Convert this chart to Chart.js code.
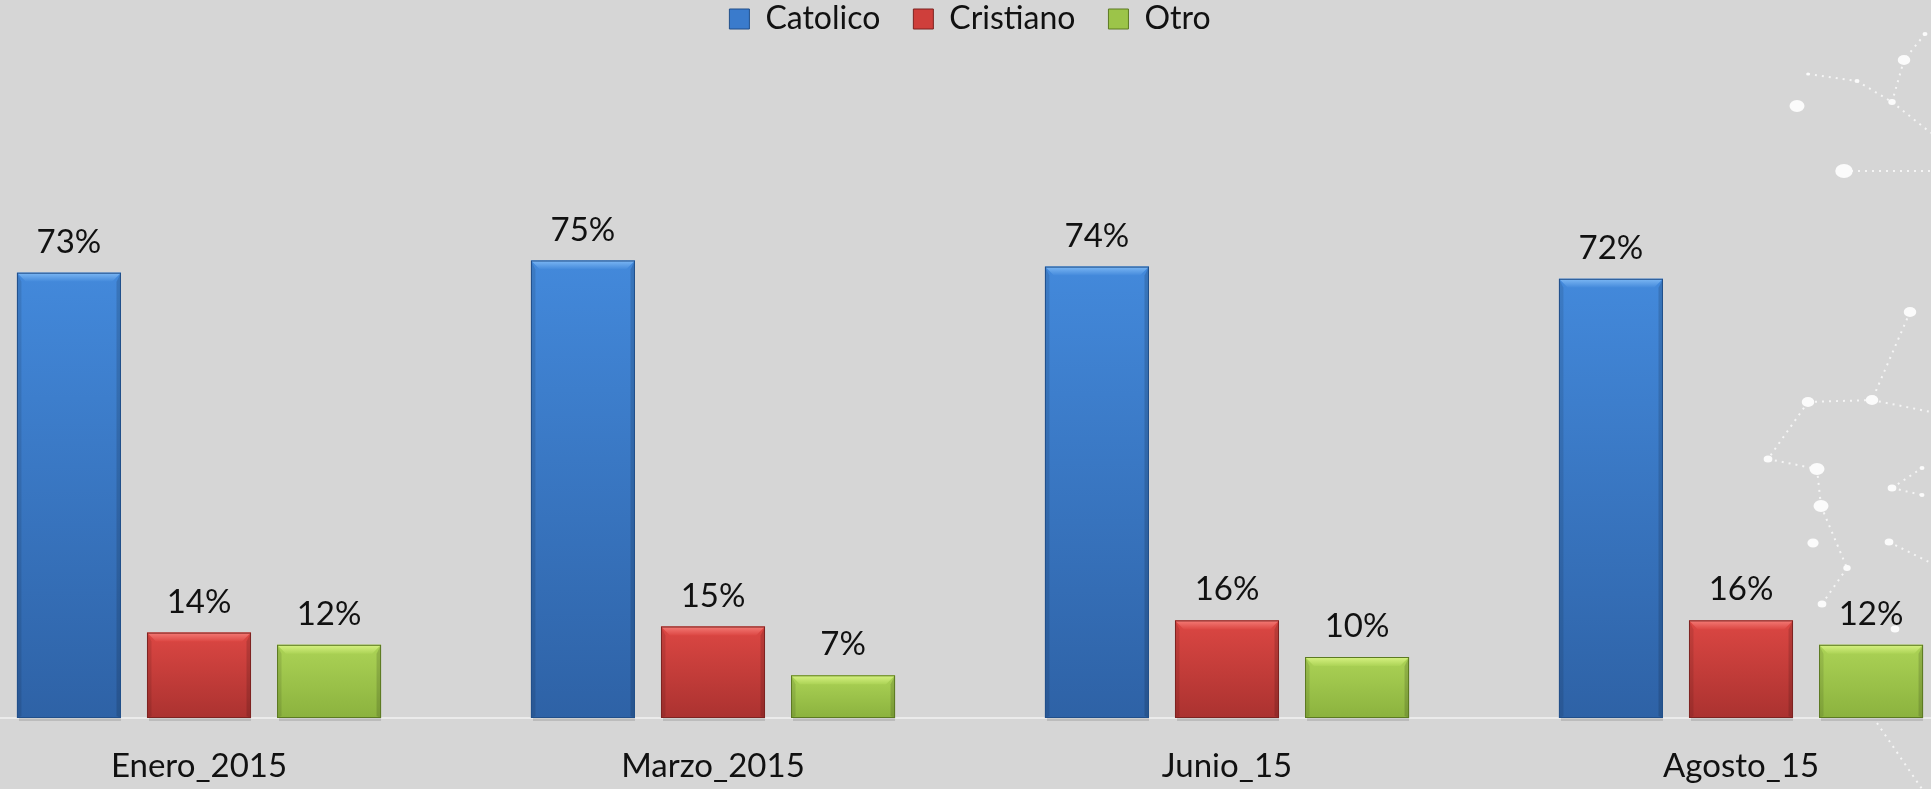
<!DOCTYPE html>
<html>
<head>
<meta charset="utf-8">
<script src="https://cdn.jsdelivr.net/npm/chart.js@4.4.1/dist/chart.umd.min.js"></script>
<style>
  html, body { margin: 0; padding: 0; width: 1931px; height: 789px; overflow: hidden; background: #d6d6d6; }
  /* the plot runs a little past both edges of the window, like the original slide */
  #wrap { position: absolute; left: -58px; top: 0; width: 2056px; height: 789px; }
</style>
</head>
<body>
<div id="wrap"><canvas id="religionChart"></canvas></div>
<script>
const periods = ['Enero_2015', 'Marzo_2015', 'Junio_15', 'Agosto_15'];
const catolico = [73, 75, 74, 72];
const cristiano = [14, 15, 16, 16];
const otro = [12, 7, 10, 12];
const seriesNames = ['Catolico', 'Cristiano', 'Otro'];

const CANVAS_SHIFT = 58;
const FONT = 'Lato, "Open Sans", sans-serif';

// bar shading (top/bottom gradient, bevel highlight, edge)
const shades = [
  { mid: '#3a7bcc', top: '#4389db', bottom: '#2e62a6', light: '#7db8f4', edge: '#214f8a' },
  { mid: '#cf3f3b', top: '#dc4743', bottom: '#ab3230', light: '#f47c77', edge: '#7d2321' },
  { mid: '#9cc449', top: '#acd356', bottom: '#8bb23e', light: '#d8f383', edge: '#5c7a22' }
];

// background ornament (white dotted constellation on the right)
const decorDots = [
  [1925, 34, 2], [1904, 60, 5], [1808, 74, 1.5], [1857, 81, 2], [1892, 102, 3], [1797, 106, 6],
  [1844, 171, 7], [1910, 312, 5], [1808, 402, 5], [1872, 400, 5], [1768, 459, 3.5], [1817, 469, 6],
  [1821, 506, 6], [1813, 543, 4.5], [1847, 568, 3], [1892, 488, 3.5], [1922, 468, 2], [1922, 495, 2],
  [1889, 542, 3.5], [1822, 604, 3.5], [1895, 629, 3.5]
];
const decorLinks = [
  [2, 3], [3, 4], [4, [1931, 133]], [1, 4], [0, 1], [6, [1931, 171]], [7, 9], [8, 9], [9, [1931, 412]],
  [8, 10], [10, 11], [11, 12], [12, 14], [15, 16], [15, 17], [18, [1931, 563]], [14, 19],
  [[1877, 723], [1922, 789]]
];

const decorPlugin = {
  id: 'decor',
  beforeDraw(chart) {
    const ctx = chart.ctx;
    const pt = p => Array.isArray(p) ? p : decorDots[p];
    ctx.save();
    ctx.translate(CANVAS_SHIFT, 0);
    ctx.strokeStyle = 'rgba(255,255,255,0.75)';
    ctx.lineWidth = 2;
    ctx.setLineDash([2, 5]);
    decorLinks.forEach(([a, b]) => {
      const p = pt(a), q = pt(b);
      ctx.beginPath(); ctx.moveTo(p[0], p[1]); ctx.lineTo(q[0], q[1]); ctx.stroke();
    });
    ctx.setLineDash([]);
    ctx.fillStyle = '#fbfbfb';
    decorDots.forEach(([x, y, r]) => {
      ctx.beginPath(); ctx.ellipse(x, y, r * 1.25, r, 0, 0, Math.PI * 2); ctx.fill();
    });
    ctx.restore();
  }
};

function poly(ctx, pts, fill) {
  ctx.beginPath();
  ctx.moveTo(pts[0][0], pts[0][1]);
  pts.slice(1).forEach(p => ctx.lineTo(p[0], p[1]));
  ctx.closePath();
  ctx.fillStyle = fill;
  ctx.fill();
}

const bevelPlugin = {
  id: 'bevel',
  afterDatasetsDraw(chart) {
    const ctx = chart.ctx;
    chart.data.datasets.forEach((ds, i) => {
      const st = shades[i];
      chart.getDatasetMeta(i).data.forEach(bar => {
        const { x, y, width, base } = bar.getProps(['x', 'y', 'width', 'base'], true);
        const l = x - width / 2, r = x + width / 2, t = y, b = base;
        const h = b - t, e = Math.min(9, h / 3);
        ctx.save();
        // soft shadow line under the bar
        ctx.fillStyle = 'rgba(0,0,0,0.12)';
        ctx.fillRect(l + 2, b, width - 2, 3);
        const g = ctx.createLinearGradient(0, t, 0, b);
        g.addColorStop(0, st.top);
        g.addColorStop(1, st.bottom);
        ctx.fillStyle = g;
        ctx.fillRect(l, t, width, h);
        const hg = ctx.createLinearGradient(0, t, 0, t + e);
        hg.addColorStop(0, st.light);
        hg.addColorStop(1, st.top);
        poly(ctx, [[l, t], [r, t], [r - e, t + e], [l + e, t + e]], hg);
        poly(ctx, [[l, t], [l + e * 0.5, t + e], [l + e * 0.5, b - 2], [l, b]], 'rgba(0,0,0,0.10)');
        poly(ctx, [[r, t], [r, b], [r - e * 0.5, b - 2], [r - e * 0.5, t + e]], 'rgba(0,0,0,0.14)');
        ctx.strokeStyle = st.edge;
        ctx.lineWidth = 1;
        ctx.strokeRect(l + 0.5, t + 0.5, width - 1, h - 1);
        ctx.restore();
      });
    });
  }
};

const valueLabels = {
  id: 'valueLabels',
  afterDatasetsDraw(chart) {
    const ctx = chart.ctx;
    ctx.save();
    ctx.font = '33px ' + FONT;
    ctx.fillStyle = '#111';
    ctx.textAlign = 'center';
    ctx.textBaseline = 'alphabetic';
    chart.data.datasets.forEach((ds, i) => {
      chart.getDatasetMeta(i).data.forEach((bar, j) => {
        ctx.fillText(ds.data[j] + '%', bar.x, bar.y - 20);
      });
    });
    ctx.restore();
  }
};

// fixed legend band so the plot top sits where 100% should be
const legendBand = {
  id: 'legendBand',
  beforeInit(chart) {
    const fit = chart.legend.fit;
    chart.legend.fit = function () {
      fit.call(this);
      this.height = 108;
    };
  },
  afterLayout(chart) {
    chart.legend.top -= 30;
  }
};

const seriesData = [catolico, cristiano, otro];

new Chart(document.getElementById('religionChart'), {
  type: 'bar',
  data: {
    labels: periods,
    datasets: seriesNames.map((name, i) => ({
      label: name,
      data: seriesData[i],
      backgroundColor: shades[i].mid,
      borderColor: shades[i].edge,
      borderWidth: 1,
      categoryPercentage: 0.759,
      barPercentage: 0.8
    }))
  },
  options: {
    responsive: true, maintainAspectRatio: false,
    animation: false,
    layout: { padding: 0 },
    plugins: {
      legend: {
        position: 'top',
        labels: {
          color: '#111',
          font: { family: FONT, size: 32 },
          boxWidth: 20, boxHeight: 20,
          padding: 33
        }
      },
      tooltip: { enabled: false }
    },
    scales: {
      y: { display: false, min: 0, max: 100 },
      x: {
        grid: { display: false, drawTicks: false },
        border: { display: true, color: '#ebebeb', width: 2 },
        ticks: { color: '#111', font: { family: FONT, size: 33 }, padding: 29 },
        afterFit(scale) { scale.height = 71; }
      }
    }
  },
  plugins: [decorPlugin, legendBand, bevelPlugin, valueLabels]
});
</script>
</body>
</html>
